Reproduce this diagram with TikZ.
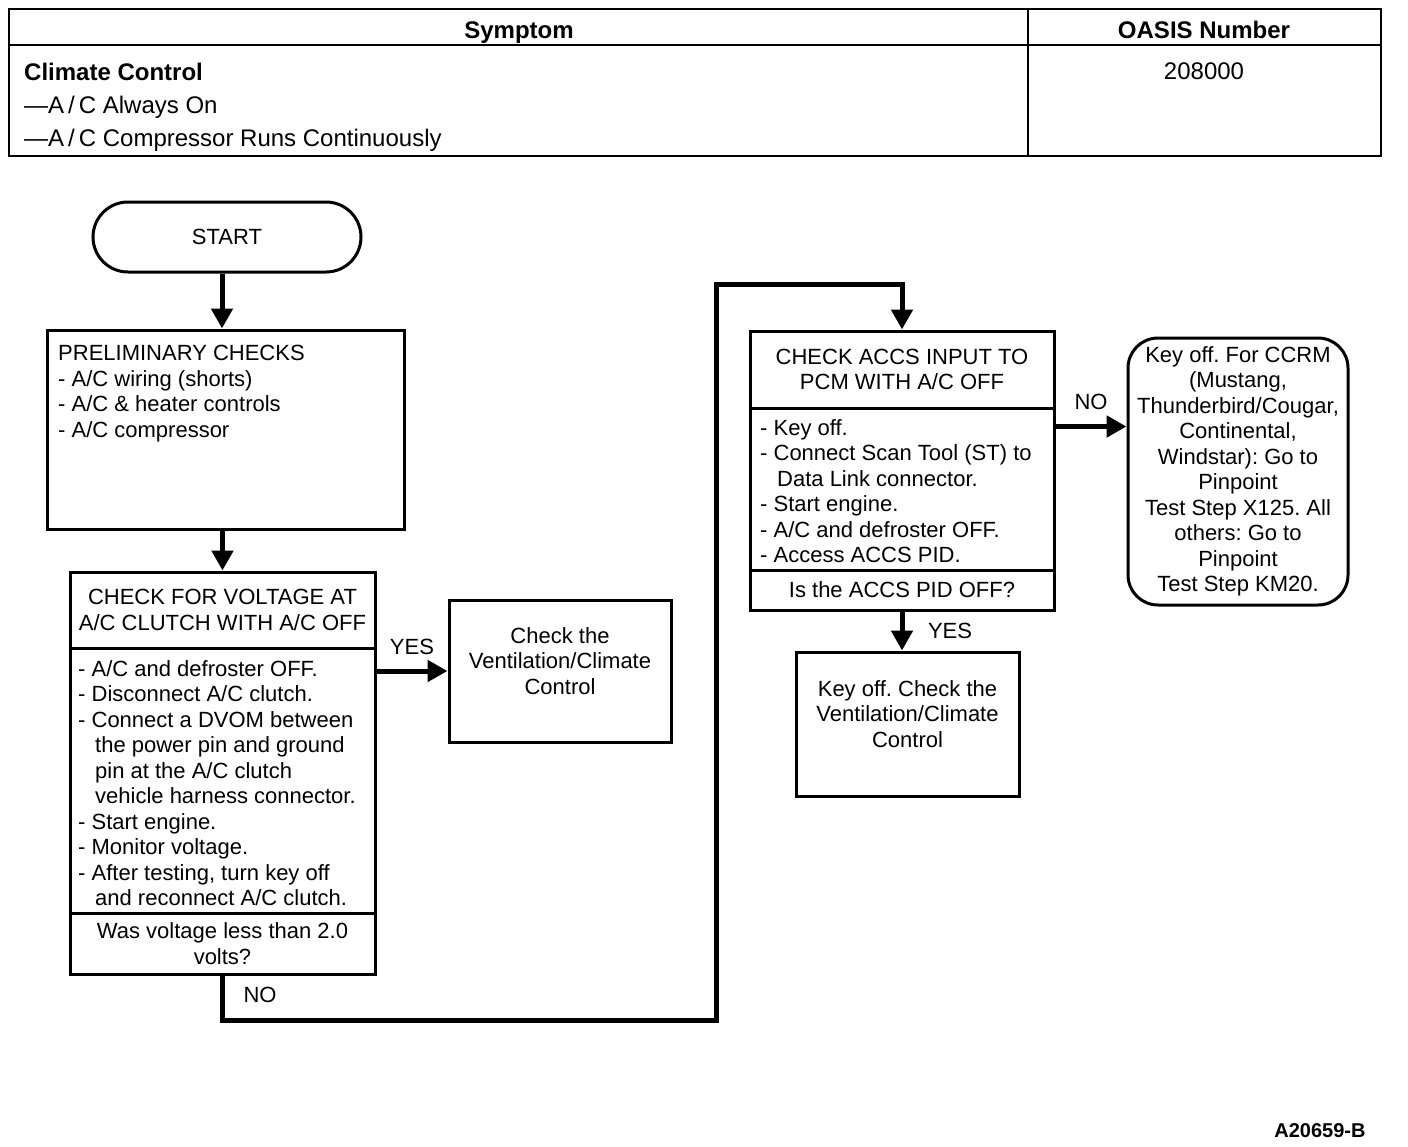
\documentclass[tikz,border=0pt]{standalone}
\usepackage{fontspec}
\setmainfont{Liberation Sans}
\usetikzlibrary{arrows.meta,positioning}

\newcommand{\ind}{\hspace*{17pt}}
\frenchspacing

\begin{document}
\begin{tikzpicture}[x=1pt,y=-1pt,
   every node/.style={font=\fontsize{22}{25.5}\selectfont,inner sep=0pt,align=center},
   box/.style={draw,line width=3pt},
   steps/.style={anchor=north west,align=left},
   tab/.style={font=\fontsize{24}{28}\selectfont},
   tabhead/.style={font=\fontsize{24}{28}\selectfont\bfseries},
   arr/.style={line width=5pt,-{Triangle[length=20pt,width=21pt]}}]
\useasboundingbox (0,0) rectangle (1408,1146);
\draw[line width=2.5pt] (9,9) rectangle (1381,156) (9,45) -- (1381,45) (1028,9) -- (1028,156);
\node[tabhead,anchor=base] (symptom) at (519,38) {Symptom};
\node[tabhead,anchor=base] (oasis) at (1204,38) {OASIS Number};
\node[tabhead,anchor=base west] (climate) at (24,80) {Climate Control};
\node[tab,anchor=base west] (always) at (24,113) {—A\,/\,C Always On};
\node[tab,anchor=base west] (runs) at (24,146) {—A\,/\,C Compressor Runs Continuously};
\node[tab,anchor=base] (number) at (1204,79) {208000};

\node[box,rounded corners=35pt,minimum width=268pt,minimum height=70pt] (start) at (227,237) {START};
\node[box,minimum width=357pt,minimum height=199pt] (prelim) at (225.5,429.5) {};
\node[steps] (prelimtxt) at (58,345) {PRELIMINARY CHECKS\\- A/C wiring (shorts)\\- A/C \& heater controls\\- A/C compressor};

\node[box,minimum width=305pt,minimum height=76pt] (vtitle) at (222.5,610) {CHECK FOR VOLTAGE AT\\A/C CLUTCH WITH A/C OFF};
\node[box,minimum width=305pt,minimum height=265pt] (vbody) at (222.5,780.5) {};
\node[box,minimum width=305pt,minimum height=61pt] (vquest) at (222.5,943.5) {Was voltage less than 2.0\\volts?};
\node[steps] (vsteps) at (78,660) {- A/C and defroster OFF.\\- Disconnect A/C clutch.\\- Connect a DVOM between\\\ind the power pin and ground\\\ind pin at the A/C clutch\\\ind vehicle harness connector.\\- Start engine.\\- Monitor voltage.\\- After testing, turn key off\\\ind and reconnect A/C clutch.};

\node[box,minimum width=222pt,minimum height=142pt] (vent) at (560,671) {};
\node (venttxt) at (560,661) {Check the\\Ventilation/Climate\\Control};

\node[box,minimum width=304pt,minimum height=77pt] (atitle) at (902,369.5) {CHECK ACCS INPUT TO\\PCM WITH A/C OFF};
\node[box,minimum width=304pt,minimum height=162pt] (abody) at (902,489) {};
\node[box,minimum width=304pt,minimum height=40pt] (aquest) at (902,590) {Is the ACCS PID OFF?};
\node[steps] (asteps) at (760,419) {- Key off.\\- Connect Scan Tool (ST) to\\\ind Data Link connector.\\- Start engine.\\- A/C and defroster OFF.\\- Access ACCS PID.};

\node[box,rounded corners=30pt,minimum width=220pt,minimum height=267pt] (ccrm) at (1238,471.5) {Key off. For CCRM\\(Mustang,\\Thunderbird/Cougar,\\Continental,\\Windstar): Go to\\Pinpoint\\Test Step X125. All\\others: Go to\\Pinpoint\\Test Step KM20.};

\node[box,minimum width=223pt,minimum height=144pt] (keyoff) at (907.5,724) {};
\node (keyofftxt) at (907.5,714) {Key off. Check the\\Ventilation/Climate\\Control};

\coordinate (low) at (716,1020);
\coordinate (bend) at (716,284);
\draw[arr] ([xshift=-5pt]start.south) -- ([xshift=-5pt]start.south |- prelim.north);
\draw[arr] (prelim.south -| vtitle.north) -- (vtitle.north);
\draw[arr] (vbody.east |- vent.west) -- (vent.west) node[midway,above=14pt] (yes1) {YES};
\draw[arr] (vquest.south) |- (low) -- (bend) -| (atitle.north);
\node (no1) at (260,995) {NO};
\draw[arr] ([yshift=-20pt]abody.north east) -- ([yshift=-20pt]abody.north east -| ccrm.west) node[midway,above=14pt] (no2) {NO};
\draw[arr] (aquest.south) -- (aquest.south |- keyoff.north);
\node (yes2) at (950,631) {YES};

\node[font=\fontsize{20}{24}\selectfont\bfseries] (code) at (1320,1131) {A20659-B};
\end{tikzpicture}
\end{document}
